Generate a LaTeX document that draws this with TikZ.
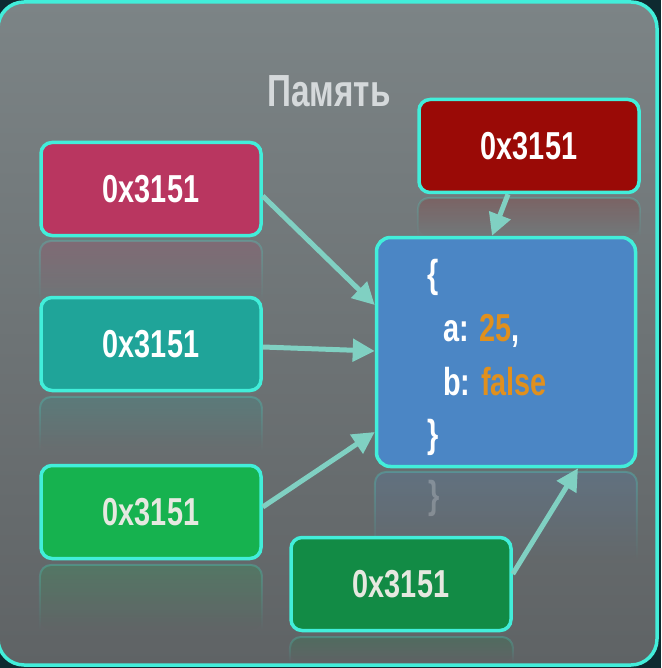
\documentclass[tikz,border=0pt]{standalone}
\usepackage{fontspec}
\newfontfamily\cf[FakeStretch=0.74]{Liberation Sans}
\usetikzlibrary{arrows.meta,fadings}
\definecolor{bgtop}{HTML}{7C8486}
\definecolor{bgbot}{HTML}{5F6365}
\definecolor{outer}{HTML}{0E2A30}
\definecolor{cyanb}{HTML}{42EEDA}
\definecolor{pinkc}{HTML}{B93660}
\definecolor{tealc}{HTML}{1FA499}
\definecolor{greenc}{HTML}{16B24F}
\definecolor{dgreenc}{HTML}{128B45}
\definecolor{redc}{HTML}{9A0A06}
\definecolor{bluec}{HTML}{4B86C5}
\definecolor{orangec}{HTML}{E0901E}
\definecolor{arrc}{HTML}{80D0C2}
\definecolor{titlec}{HTML}{D5D9DB}
\definecolor{offw}{HTML}{E6E8E0}
\tikzset{
  membox/.style={draw=cyanb, line width=3.5pt, rounded corners=11pt,
    minimum width=220pt, minimum height=93pt, inner sep=0pt,
    font=\cf\bfseries\fontsize{39}{39}\selectfont, text=white},
  objbox/.style={draw=cyanb, line width=3.5pt, rounded corners=14pt,
    minimum width=259pt, minimum height=229pt, fill=bluec},
  codetxt/.style={font=\cf\bfseries\fontsize{39}{39}\selectfont, text=white, inner sep=0pt},
  arr/.style={draw=arrc, line width=5pt, -{Triangle[length=22pt,width=22pt]}},
  refl/.style={fill=#1, fill opacity=0.2, path fading=south, rounded corners=11pt},
  refledge/.style={draw=cyanb, draw opacity=0.25, line width=2pt, path fading=south, rounded corners=11pt},
}
\begin{document}
\begin{tikzpicture}[x=1pt,y=-1pt]
\useasboundingbox (0,0) rectangle (661,668);
% background
\fill[outer] (0,0) rectangle (661,668);
\shade[top color=bgtop, bottom color=bgbot, rounded corners=26pt]
  (-2,2) rectangle (657,665);
\draw[cyanb, line width=3.5pt, rounded corners=26pt] (-2,2) rectangle (657,665);
% title
\node[font=\cf\bfseries\fontsize{45}{45}\selectfont, text=titlec, inner sep=0pt]
  (title) at (329,91) {Память};
% reflections
\fill[refl=pinkc] (40,241) rectangle (262,300);
\draw[refledge] (40,300) |- (262,241) -- (262,300);
\fill[refl=tealc] (40,397) rectangle (262,450);
\draw[refledge] (40,450) |- (262,397) -- (262,450);
\fill[refl=greenc] (40,565) rectangle (262,630);
\draw[refledge] (40,630) |- (262,565) -- (262,630);
\fill[refl=dgreenc] (290,637) rectangle (513,662);
\draw[refledge] (290,662) |- (513,637) -- (513,662);
\fill[refl=redc] (418,198) rectangle (640,236);
\draw[refledge] (418,236) |- (640,198) -- (640,236);
\fill[refl=bluec] (375,472) rectangle (637,560);
\draw[refledge] (375,560) |- (637,472) -- (637,560);
\node[codetxt, opacity=0.22, anchor=base west] (reflbrace) at (428,508) {\}};
% memory boxes
\node[membox, fill=pinkc] (pink) at (151,189) {0x3151};
\node[membox, fill=tealc] (teal) at (151,344) {0x3151};
\node[membox, fill=greenc, text=offw] (green) at (151,512) {0x3151};
\node[membox, fill=dgreenc, text=offw] (dgreen) at (401,584) {0x3151};
\node[membox, fill=redc] (red) at (529,146) {0x3151};
% object box
\node[objbox] (obj) at (506,352) {};
\node[codetxt, anchor=base west] (lb) at (427,287) {\{};
\node[codetxt, anchor=base west] (la) at (443,341) {a: \textcolor{orangec}{25},};
\node[codetxt, anchor=base west] (lbb) at (443,395) {b: \textcolor{orangec}{false}};
\node[codetxt, anchor=base west] (rb) at (427,447) {\}};
% arrows
\draw[arr] ([yshift=-7pt]pink.east) -- ([yshift=47pt]obj.west);
\draw[arr] ([yshift=-3pt]teal.east) -- ([yshift=1pt]obj.west);
\draw[arr] ([yshift=5pt]green.east) -- ([yshift=-80pt]obj.west);
\draw[arr] ([xshift=-21pt]red.south) -- ([xshift=-14pt]obj.north);
\draw[arr] ([yshift=10pt]dgreen.east) -- ([xshift=72pt]obj.south);
\end{tikzpicture}
\end{document}
